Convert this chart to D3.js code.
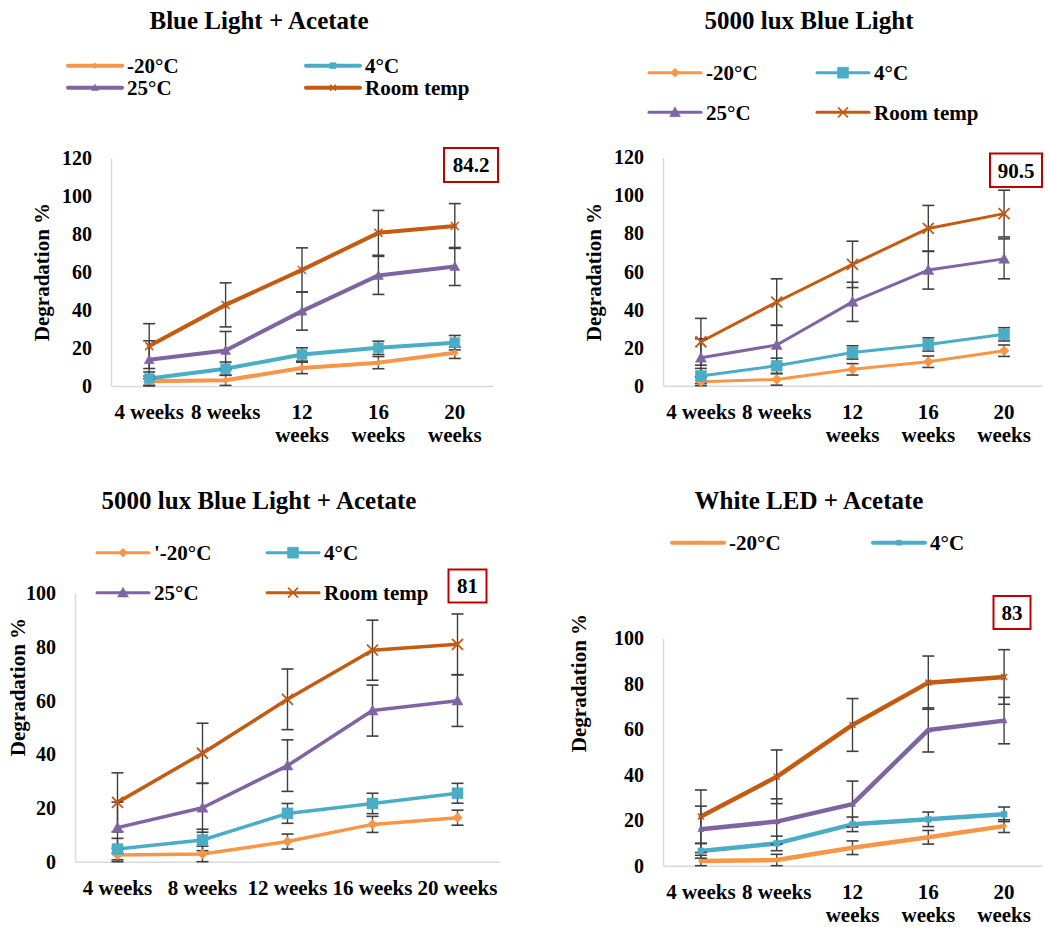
<!DOCTYPE html>
<html><head><meta charset="utf-8">
<script src="https://cdn.jsdelivr.net/npm/d3@7"></script>
</head><body style="margin:0;background:#fff"><svg id="c" width="1049" height="927" font-family="Liberation Serif" font-weight="bold"></svg>
<script>
// ---------- data ----------
const weeks = ["4 weeks", "8 weeks", "12 weeks", "16 weeks", "20 weeks"];
const seriesNames = ["-20°C", "4°C", "25°C", "Room temp"];
const seriesNamesAlt = ["'-20°C", "4°C", "25°C", "Room temp"];
const seriesColors = ["#F79646", "#4BACC6", "#8064A2", "#C55A11"];
const seriesMarkers = ["diamond", "square", "triangle", "x"];
const ticks120 = [0, 20, 40, 60, 80, 100, 120];
const ticks100 = [0, 20, 40, 60, 80, 100];

// Panel 1: Blue Light + Acetate
const p1Title = "Blue Light + Acetate";
const p1Minus20 = [2.5, 3.0, 9.5, 12.3, 17.5];
const p1Minus20Err = [2.7, 2.7, 3.0, 3.2, 3.0];
const p1Four = [3.9, 9.1, 16.6, 20.1, 22.8];
const p1FourErr = [3.5, 3.5, 3.5, 3.5, 3.8];
const p1TwentyFive = [13.8, 18.7, 39.4, 58.2, 62.9];
const p1TwentyFiveErr = [10, 10, 10, 10, 10];
const p1Room = [21.0, 42.7, 61.1, 80.6, 84.2];
const p1RoomErr = [11.8, 11.6, 11.6, 11.8, 11.8];
const p1Highlight = "84.2";

// Panel 2: 5000 lux Blue Light
const p2Title = "5000 lux Blue Light";
const p2Minus20 = [2.1, 3.3, 8.6, 12.6, 18.4];
const p2Minus20Err = [2.5, 3.0, 3.0, 3.0, 3.0];
const p2Four = [5.1, 10.5, 17.5, 21.7, 27.0];
const p2FourErr = [4.0, 4.0, 3.5, 3.5, 3.5];
const p2TwentyFive = [14.7, 21.4, 44.1, 60.8, 66.7];
const p2TwentyFiveErr = [10, 10.3, 10.3, 10, 10.5];
const p2Room = [23.1, 44.0, 63.8, 82.7, 90.5];
const p2RoomErr = [12.3, 12.2, 12.2, 12.1, 12.3];
const p2Highlight = "90.5";

// Panel 3: 5000 lux Blue Light + Acetate
const p3Title = "5000 lux Blue Light + Acetate";
const p3Minus20 = [2.5, 2.9, 7.5, 13.9, 16.4];
const p3Minus20Err = [2.5, 2.9, 2.8, 3.0, 2.8];
const p3Four = [4.7, 8.1, 18.0, 21.7, 25.5];
const p3FourErr = [4.0, 4.0, 3.7, 3.8, 3.7];
const p3TwentyFive = [12.7, 20.1, 35.8, 56.3, 60.0];
const p3TwentyFiveErr = [9.5, 9.1, 9.6, 9.5, 9.6];
const p3Room = [22.1, 40.4, 60.5, 78.8, 81.0];
const p3RoomErr = [11.0, 11.2, 11.3, 11.2, 11.3];
const p3Highlight = "81";

// Panel 4: White LED + Acetate
const p4Title = "White LED + Acetate";
const p4Minus20 = [2.1, 2.5, 7.9, 12.5, 17.4];
const p4Minus20Err = [2.5, 2.5, 3.0, 3.0, 2.8];
const p4Four = [6.5, 9.8, 18.2, 20.4, 22.6];
const p4FourErr = [3.2, 3.2, 3.2, 3.2, 3.2];
const p4TwentyFive = [16.0, 19.4, 27.1, 59.7, 63.8];
const p4TwentyFiveErr = [10.2, 10, 10.1, 9.7, 10.2];
const p4Room = [21.6, 39.1, 61.9, 80.5, 83.0];
const p4RoomErr = [11.7, 11.8, 11.6, 11.7, 12.0];
const p4Highlight = "83";

const yTitle = "Degradation %";

// ---------- panels (data + layout) ----------
const panels = [
  {title: p1Title, values: [p1Minus20, p1Four, p1TwentyFive, p1Room],
   errors: [p1Minus20Err, p1FourErr, p1TwentyFiveErr, p1RoomErr],
   ticks: ticks120, legendNames: seriesNames, legendCount: 4, highlight: p1Highlight,
   L: {x0: 111, x1: 493, yTop: 158, y0: 386, titleX: 259, titleY: 20, yTitleX: 42, yTitleY: 272,
       legRows: [65.7, 87.7], legCols: [68, 306], lineLen: 54, box: [444, 148, 54, 34],
       lw: 4, ms: [7, 10, 10, 8], lms: [6, 6, 7, 6], llw: 4}},
  {title: p2Title, values: [p2Minus20, p2Four, p2TwentyFive, p2Room],
   errors: [p2Minus20Err, p2FourErr, p2TwentyFiveErr, p2RoomErr],
   ticks: ticks120, legendNames: seriesNames, legendCount: 4, highlight: p2Highlight,
   L: {x0: 663, x1: 1042, yTop: 157.5, y0: 385.7, titleX: 809, titleY: 20, yTitleX: 594, yTitleY: 272,
       legRows: [72.7, 112.3], legCols: [649, 817], lineLen: 52, box: [990, 153.5, 52, 33.5],
       lw: 3, ms: [10, 11, 11, 11], lms: [9, 11, 11, 10], llw: 3}},
  {title: p3Title, values: [p3Minus20, p3Four, p3TwentyFive, p3Room],
   errors: [p3Minus20Err, p3FourErr, p3TwentyFiveErr, p3RoomErr],
   ticks: ticks100, legendNames: seriesNamesAlt, legendCount: 4, highlight: p3Highlight,
   L: {x0: 75, x1: 500, yTop: 593.3, y0: 861.7, titleX: 259, titleY: 500, yTitleX: 18, yTitleY: 687,
       legRows: [552.7, 592.7], legCols: [97, 267], lineLen: 52, box: [448.5, 569.5, 38, 33],
       lw: 3.5, ms: [10, 11, 11, 11], lms: [9, 11, 11, 10], llw: 3}},
  {title: p4Title, values: [p4Minus20, p4Four, p4TwentyFive, p4Room],
   errors: [p4Minus20Err, p4FourErr, p4TwentyFiveErr, p4RoomErr],
   ticks: ticks100, legendNames: seriesNames, legendCount: 2, highlight: p4Highlight,
   L: {x0: 663, x1: 1042, yTop: 638.3, y0: 865.7, titleX: 809, titleY: 500, yTitleX: 579, yTitleY: 683,
       legRows: [542.7], legCols: [672, 873], lineLen: 52, box: [993.5, 596, 37, 33],
       lw: 4.5, ms: [5, 6, 6, 6], lms: [4, 5, 5, 4], llw: 4}}
];

const FONT = "Liberation Serif";
const svg = d3.select("#c");
function txt(sel, size) {
  return sel.style("font-family", FONT).style("font-weight", "bold").style("font-size", size + "px").attr("fill", "#000");
}

function markerPath(type, s) {
  const h = s / 2;
  if (type === "diamond") return `M0,${-h}L${h},0L0,${h}L${-h},0Z`;
  if (type === "square") return `M${-h},${-h}H${h}V${h}H${-h}Z`;
  if (type === "triangle") return `M0,${-h}L${h},${h * 0.8}L${-h},${h * 0.8}Z`;
  return `M${-h},${-h}L${h},${h}M${-h},${h}L${h},${-h}`;
}
function drawMarker(g, type, s, color, x, y) {
  const p = g.append("path").attr("d", markerPath(type, s))
    .attr("transform", `translate(${x},${y})`);
  if (type === "x") p.attr("fill", "none").attr("stroke", color).attr("stroke-width", Math.max(1.5, s / 6));
  else p.attr("fill", color).attr("stroke", color).attr("stroke-width", 0.5);
}

panels.forEach(P => {
  const L = P.L;
  const g = svg.append("g");
  const yMax = P.ticks[P.ticks.length - 1];
  const x = d3.scaleBand().domain(weeks).range([L.x0, L.x1]);
  const y = d3.scaleLinear().domain([0, yMax]).range([L.y0, L.yTop]);
  const cx = w => x(w) + x.bandwidth() / 2;

  // title
  txt(g.append("text").attr("x", L.titleX).attr("y", L.titleY).attr("dy", "0.35em")
    .attr("text-anchor", "middle"), 25).text(P.title);

  // y axis
  const ya = g.append("g").attr("transform", `translate(${L.x0},0)`)
    .call(d3.axisLeft(y).tickValues(P.ticks).tickSize(0).tickPadding(19));
  ya.attr("font-family", FONT);
  ya.select(".domain").attr("stroke", "#d9d9d9").attr("stroke-width", 1.5);
  txt(ya.selectAll("text"), 20);

  // x axis
  const xa = g.append("g").attr("transform", `translate(0,${L.y0})`)
    .call(d3.axisBottom(x).tickSize(0).tickPadding(0));
  xa.attr("font-family", FONT);
  xa.select(".domain").attr("stroke", "#d9d9d9").attr("stroke-width", 1.5);
  txt(xa.selectAll("text"), 21)
    .attr("y", 26).attr("dy", "0.35em")
    .each(function(d) {
      const t = d3.select(this);
      if (this.getComputedTextLength() > x.bandwidth() - 1) {
        const parts = d.split(" ");
        t.text(null);
        parts.forEach((p, i) => t.append("tspan").attr("x", 0).attr("dy", i === 0 ? "0.35em" : "23px").text(p));
      }
    });

  // y title
  txt(g.append("text").attr("transform", `translate(${L.yTitleX},${L.yTitleY}) rotate(-90)`)
    .attr("dy", "0.35em").attr("text-anchor", "middle"), 21).text(yTitle);

  const line = d3.line().x((d, i) => cx(weeks[i])).y(d => y(d));

  // lines
  P.values.forEach((vals, si) => {
    g.append("path").datum(vals).attr("d", line).attr("fill", "none")
      .attr("stroke", seriesColors[si]).attr("stroke-width", L.lw)
      .attr("stroke-linejoin", "round").attr("stroke-linecap", "round");
  });
  // error bars
  P.values.forEach((vals, si) => {
    vals.forEach((v, i) => {
      const e = P.errors[si][i];
      const xx = cx(weeks[i]);
      const lo = y(Math.max(0, v - e)), hi = y(v + e);
      g.append("line").attr("x1", xx).attr("x2", xx).attr("y1", lo).attr("y2", hi)
        .attr("stroke", "#404040").attr("stroke-width", 1.4);
      [lo, hi].forEach(yy => g.append("line").attr("x1", xx - 6).attr("x2", xx + 6)
        .attr("y1", yy).attr("y2", yy).attr("stroke", "#404040").attr("stroke-width", 1.6));
    });
  });
  // markers
  P.values.forEach((vals, si) => {
    vals.forEach((v, i) => drawMarker(g, seriesMarkers[si], L.ms[si], seriesColors[si], cx(weeks[i]), y(v)));
  });

  // legend
  for (let i = 0; i < P.legendCount; i++) {
    const ry = L.legRows[Math.floor(i / 2)], lx = L.legCols[i % 2];
    g.append("line").attr("x1", lx).attr("x2", lx + L.lineLen).attr("y1", ry).attr("y2", ry)
      .attr("stroke", seriesColors[i]).attr("stroke-width", L.llw).attr("stroke-linecap", "round");
    drawMarker(g, seriesMarkers[i], L.lms[i], seriesColors[i], lx + L.lineLen / 2, ry);
    txt(g.append("text").attr("x", lx + L.lineLen + 5).attr("y", ry).attr("dy", "0.35em"), 21)
      .text(P.legendNames[i]);
  }

  // highlight box
  const b = L.box;
  g.append("rect").attr("x", b[0]).attr("y", b[1]).attr("width", b[2]).attr("height", b[3])
    .attr("fill", "#fff").attr("stroke", "#C00000").attr("stroke-width", 2);
  txt(g.append("text").attr("x", b[0] + b[2] / 2).attr("y", b[1] + b[3] / 2).attr("dy", "0.35em")
    .attr("text-anchor", "middle"), 21).text(P.highlight);
});
</script>
</body></html>
